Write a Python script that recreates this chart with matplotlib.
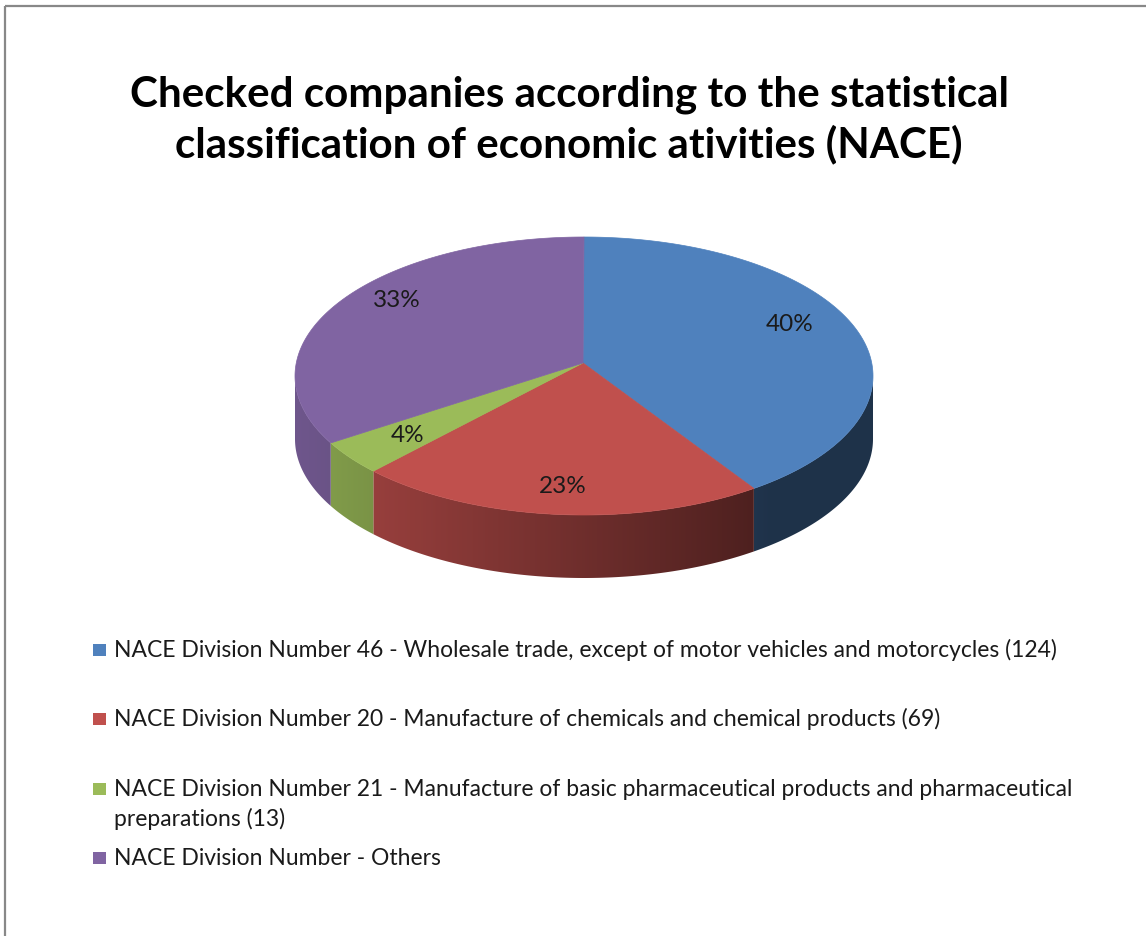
import numpy as np
import matplotlib.pyplot as plt
from matplotlib.patches import Polygon, Rectangle
from matplotlib.colors import to_rgb

# Share of checked companies per NACE division (percent)
shares = [40, 23, 4, 33]
legend_labels = [
    "NACE Division Number 46 - Wholesale trade, except of motor vehicles and motorcycles (124)",
    "NACE Division Number 20 - Manufacture of chemicals and chemical products (69)",
    "NACE Division Number 21 - Manufacture of basic pharmaceutical products and pharmaceutical\npreparations (13)",
    "NACE Division Number - Others",
]
colors = ["#4F81BD", "#C0504D", "#9BBB59", "#8064A2"]
title_lines = [
    "Checked companies according to the statistical",
    "classification of economic ativities (NACE)",
]

plt.rcParams["font.family"] = ["Lato", "DejaVu Sans"]

W, H = 1146, 936
fig = plt.figure(figsize=(W / 100, H / 100), dpi=100)
ax = fig.add_axes([0, 0, 1, 1])
ax.set_xlim(0, W)
ax.set_ylim(H, 0)
ax.axis("off")

# chart area border
ax.add_patch(Rectangle((4.5, 6), W + 10, H + 10, fill=False, ec="#888888", lw=1.6))

# title
for i, line in enumerate(title_lines):
    ax.text(569, 107 + i * 50, line, ha="center", va="baseline",
            fontsize=30.3, fontweight="bold", color="black")

# 3d pie geometry (pixel space)
cx, cy = 584, 376      # centre of the top ellipse
rx, ry = 289, 139
ax0, ay0 = 583, 363    # point where the slices meet
depth = 63


def rim(theta):
    t = np.radians(theta)
    return cx + rx * np.sin(t), cy - ry * np.cos(t)


def side_shade(x):
    return np.clip(0.80 - 0.40 * (x - 360) / 400, 0.39, 0.9)


bounds = np.concatenate([[0], np.cumsum(shares)]) / sum(shares) * 360

# side walls, only the front half is visible; shaded with a horizontal gradient
xs = np.arange(cx - rx - 2, cx + rx + 3)
for k, col in enumerate(colors):
    a0, a1 = max(bounds[k], 90), min(bounds[k + 1], 270)
    if a1 <= a0:
        continue
    th = np.linspace(a0, a1, 200)
    top = [rim(t) for t in th]
    bottom = [(x, y + depth) for x, y in top[::-1]]
    wall = Polygon(top + bottom, closed=True, fc="none", ec="none")
    ax.add_patch(wall)
    base = np.array(to_rgb(col))
    grad = side_shade(xs)[None, :, None] * base[None, None, :]
    img = ax.imshow(grad, extent=(xs[0], xs[-1], cy + ry + depth + 5, cy - ry),
                    aspect="auto", interpolation="bilinear")
    img.set_clip_path(wall)

ax.set_xlim(0, W)
ax.set_ylim(H, 0)

# top faces
for k, col in enumerate(colors):
    th = np.linspace(bounds[k], bounds[k + 1], 200)
    pts = [(ax0, ay0)] + [rim(t) for t in th]
    ax.add_patch(Polygon(pts, closed=True, fc=col, ec=col, lw=0.5))

# percentage labels
for k in range(len(shares)):
    mid = np.radians((bounds[k] + bounds[k + 1]) / 2)
    lx = ax0 + 0.75 * rx * np.sin(mid)
    ly = ay0 - 0.75 * 165 * np.cos(mid)
    ax.text(lx, ly, f"{shares[k]}%", ha="center", va="center",
            fontsize=17.5, color="#1a1a1a")

# legend
for i, (lab, col) in enumerate(zip(legend_labels, colors)):
    base_y = 657 + i * 69.3
    ax.add_patch(Rectangle((93, base_y - 13), 13, 12, fc=col, ec="none"))
    for j, line in enumerate(lab.split("\n")):
        ax.text(114, base_y + j * 30, line, ha="left", va="baseline",
                fontsize=16.5, color="#1a1a1a")

fig.savefig("out.png", dpi=100)
